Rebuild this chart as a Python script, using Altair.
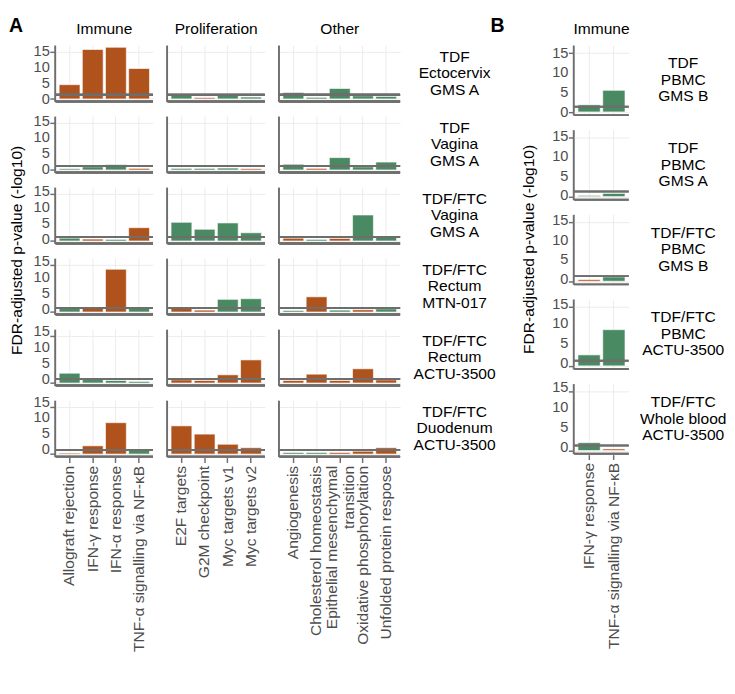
import altair as alt
import pandas as pd

ORANGE = "#b0521c"
GREEN = "#4a8a62"
LINE = "#6e6e6e"
GRID = "#ebebeb"
YTITLE = "FDR-adjusted p-value (-log10)"

# ---------------- data ----------------
immune_cats = ["Allograft rejection", "IFN-γ response", "IFN-α response", "TNF-α signalling via NF-κB"]
prolif_cats = ["E2F targets", "G2M checkpoint", "Myc targets v1", "Myc targets v2"]
other_cats = ["Angiogenesis", "Cholesterol homeostasis", "Epithelial mesenchymal|transition",
              "Oxidative phosphorylation", "Unfolded protein respose"]
immuneB_cats = ["IFN-γ response", "TNF-α signalling via NF-κB"]

conds_A = ["TDF|Ectocervix|GMS A", "TDF|Vagina|GMS A", "TDF/FTC|Vagina|GMS A",
           "TDF/FTC|Rectum|MTN-017", "TDF/FTC|Rectum|ACTU-3500", "TDF/FTC|Duodenum|ACTU-3500"]
conds_B = ["TDF|PBMC|GMS B", "TDF|PBMC|GMS A", "TDF/FTC|PBMC|GMS B",
           "TDF/FTC|PBMC|ACTU-3500", "TDF/FTC|Whole blood|ACTU-3500"]

# values (-log10 FDR) per condition row; U = orange, D = green
immune_vals = [[4.5, 15.6, 16.3, 9.6], [0.4, 1.0, 1.7, 0.5], [0.9, 0.6, 0.5, 4.2],
               [1.1, 1.2, 13.5, 1.2], [3.1, 1.1, 0.8, 0.5], [0.3, 2.6, 9.9, 1.2]]
immune_dir = ["UUUU", "DDDU", "DUDU", "DUUD", "DDDD", "UUUD"]

prolif_vals = [[1.1, 0.4, 1.2, 0.6], [0.5, 0.5, 0.6, 0.4], [5.9, 3.7, 5.7, 2.6],
               [1.1, 0.6, 4.0, 4.2], [1.0, 0.8, 2.6, 7.3], [8.9, 6.3, 3.1, 2.0]]
prolif_dir = ["DUDD", "DDDU", "DDDD", "UUDD", "UUUU", "UUUU"]

other_vals = [[2.0, 0.5, 3.3, 1.0, 0.8], [1.8, 0.5, 3.9, 1.0, 2.5], [0.9, 0.5, 0.8, 8.2, 1.2],
              [0.5, 4.8, 0.6, 0.7, 1.0], [0.8, 2.8, 0.8, 4.5, 1.0], [0.5, 0.5, 0.5, 0.9, 2.0]]
other_dir = ["DDDDD", "DUDDD", "UDUDD", "DUDUD", "UUUUU", "DDUUU"]

immuneB_vals = [[1.8, 5.5], [0.3, 0.8], [0.4, 1.1], [2.8, 9.2], [2.0, 0.4]]
immuneB_dir = ["DD", "DD", "UD", "DD", "DU"]

y_ticks = [0, 5, 10, 15]
THRESH = 1.3
YDOM = [-0.8, 17.0]


def make_df(group, cats, conds, vals, dirs):
    rows = []
    for c, vrow, drow in zip(conds, vals, dirs):
        for cat, v, d in zip(cats, vrow, drow):
            rows.append({"group": group, "cond": c, "cat": cat, "val": v,
                         "dir": "Up" if d == "U" else "Down"})
    return pd.DataFrame(rows)


def col_header(visible):
    if visible:
        return alt.Header(title=None, labelFontSize=16, labelColor="black", labelPadding=8)
    return alt.Header(title=None, labelFontSize=16, labelColor="white", labelPadding=8,
                      labelExpr="' '")


def panel(df, cats, conds, width, height, row_spacing, ticks_on, last):
    yscale = alt.Scale(domain=YDOM, nice=False, zero=False)
    xaxis = alt.Axis(labelAngle=-90, labelAlign="right",
                     labelBaseline=alt.condition("indexof(datum.value, '|') >= 0",
                                                 alt.value("bottom"), alt.value("middle")),
                     labelExpr="split(datum.label, '|')", labelLimit=400,
                     labelOverlap=False, grid=True, bandPosition=0.5,
                     tickSize=5, labelPadding=3, domain=False)
    yaxis = alt.Axis(values=y_ticks, grid=True, tickSize=5 if ticks_on else 0,
                     labels=False, ticks=ticks_on, title=None, domain=True)
    bars = alt.Chart().mark_bar(stroke="white", strokeWidth=0.8, strokeOpacity=0.8).encode(
        x=alt.X("cat:N", sort=cats, title=None,
                scale=alt.Scale(paddingInner=0.1, paddingOuter=0.15), axis=xaxis),
        y=alt.Y("val:Q", scale=yscale, axis=yaxis),
        y2=alt.datum(0),
        color=alt.Color("dir:N", scale=alt.Scale(domain=["Up", "Down"], range=[ORANGE, GREEN]),
                        legend=None),
    )
    hline = alt.Chart().mark_rule(color=LINE, strokeWidth=2).encode(y=alt.datum(THRESH))
    bottom = alt.Chart().mark_rule(color=LINE, strokeWidth=2).encode(y=alt.datum(YDOM[0]))
    layers = [bars, hline, bottom]
    if last:
        lab = alt.Chart().mark_text(
            align="center", baseline="middle", fontSize=16, lineHeight=17,
            lineBreak="|", color="black",
        ).encode(
            text="cond:N",
            x=alt.value(width + 56),
            y=alt.value(height / 2 - 17),
        ).transform_filter(alt.datum.cat == cats[0])
        layers.append(lab)
    layered = alt.layer(*layers, data=df).properties(width=width, height=height)
    return layered.facet(
        row=alt.Row("cond:N", sort=conds, header=alt.Header(labels=False, title=None,
                                                            labelPadding=0)),
        column=alt.Column("group:N", header=col_header(True)),
        spacing={"row": row_spacing, "column": 0},
    )


def tick_labels(df, conds, height, row_spacing, title_pad):
    # narrow facet column carrying the y tick labels, sharing the rows
    yscale = alt.Scale(domain=YDOM, nice=False, zero=False)
    txt = alt.Chart(df).mark_text(align="right", baseline="middle", fontSize=15,
                                  color="#4d4d4d").encode(
        x=alt.value(18),
        y=alt.Y("tick:Q", scale=yscale, axis=None),
        text="tick:Q",
    ).properties(width=18, height=height)
    return txt.facet(
        row=alt.Row("cond:N", sort=conds,
                    header=alt.Header(labels=False, title=YTITLE, titleOrient="left",
                                      titleFontSize=16, titleFontWeight="normal",
                                      titleColor="black", titlePadding=title_pad,
                                      labelPadding=0)),
        column=alt.Column("group:N", header=col_header(False)),
        spacing={"row": row_spacing, "column": 0},
        bounds="flush",
    )


dfI = make_df("Immune", immune_cats, conds_A, immune_vals, immune_dir)
dfP = make_df("Proliferation", prolif_cats, conds_A, prolif_vals, prolif_dir)
dfO = make_df("Other", other_cats, conds_A, other_vals, other_dir)
dfB = make_df("Immune", immuneB_cats, conds_B, immuneB_vals, immuneB_dir)

dfAt = pd.DataFrame([{"group": "Immune", "cond": c, "tick": t} for c in conds_A for t in y_ticks])
dfBt = pd.DataFrame([{"group": "Immune", "cond": c, "tick": t} for c in conds_B for t in y_ticks])

tA = tick_labels(dfAt, conds_A, 58, 14, -2).properties(
    title=alt.TitleParams("A", anchor="start", fontSize=20, fontWeight="bold",
                          color="black", offset=-15))
pA1 = panel(dfI, immune_cats, conds_A, 100, 58, 14, True, False)
pA2 = panel(dfP, prolif_cats, conds_A, 100, 58, 14, False, False)
pA3 = panel(dfO, other_cats, conds_A, 124, 58, 14, False, True)
tB = tick_labels(dfBt, conds_B, 72, 14, 4).properties(
    title=alt.TitleParams("B", anchor="start", fontSize=20, fontWeight="bold",
                          color="black", offset=-15, dx=-32))
pB = panel(dfB, immuneB_cats, conds_B, 56, 72, 14, True, True)

panelA = alt.hconcat(tA, alt.hconcat(pA1, pA2, pA3, spacing=13), spacing=-1)
panelB = alt.hconcat(tB, pB, spacing=-1)
chart = alt.hconcat(panelA, panelB, spacing=-7).properties(
    padding={"left": 0, "top": 0, "right": 0, "bottom": 0}
).configure(font="Liberation Sans").configure_view(stroke=None).configure_axis(
    gridColor=GRID, gridWidth=1, domainColor=LINE, domainWidth=2,
    tickColor=LINE, tickWidth=1.5, labelColor="#4d4d4d", labelFontSize=16,
    titleFontSize=16, titleColor="black", titleFontWeight="normal",
).configure_header(labelFontSize=16, labelColor="black")

chart.save("out.html", embed_options={"renderer": "svg", "actions": False})
